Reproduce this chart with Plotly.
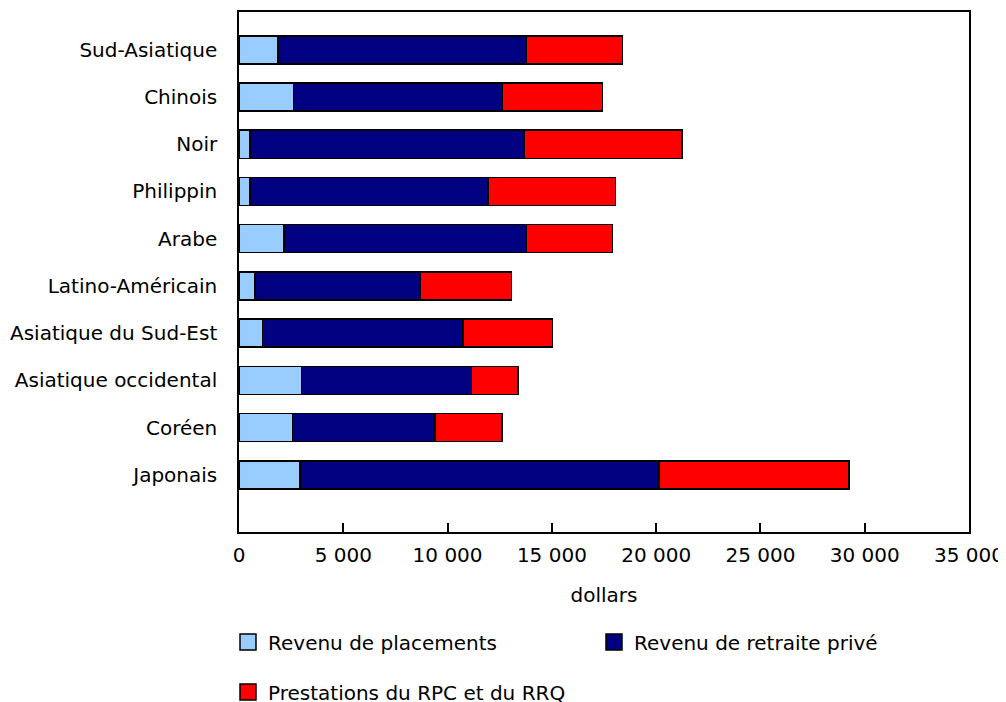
import plotly.graph_objects as go

categories = ["Japonais", "Coréen", "Asiatique occidental", "Asiatique du Sud-Est",
              "Latino-Américain", "Arabe", "Philippin", "Noir", "Chinois", "Sud-Asiatique"]
placements = [2925, 2570, 3000, 1120, 770, 2160, 530, 530, 2620, 1870]
retraite_prive = [17210, 6830, 8140, 9620, 7940, 11630, 11420, 13130, 10020, 11905]
rpc_rrq = [9105, 3210, 2235, 4295, 4360, 4125, 6090, 7590, 4780, 4600]

series_names = ["Revenu de placements", "Revenu de retraite privé", "Prestations du RPC et du RRQ"]
colors = ["#99CCFF", "#000080", "#FF0000"]
tick_vals = [0, 5000, 10000, 15000, 20000, 25000, 30000, 35000]
tick_text = ["0", "5 000", "10 000", "15 000", "20 000", "25 000", "30 000", "35 000"]

FONT = "Verdana, DejaVu Sans, sans-serif"
FS = 20

fig = go.Figure()
for name, vals, col in zip(series_names, [placements, retraite_prive, rpc_rrq], colors):
    fig.add_trace(go.Bar(
        y=categories, x=vals, orientation="h", name=name,
        marker=dict(color=col, line=dict(color="#000000", width=1.5)),
        showlegend=False,
    ))

legends = ["legend", "legend", "legend2"]
for name, col, lg in zip(series_names, colors, legends):
    fig.add_trace(go.Scatter(
        x=[None], y=[None], mode="markers", name=name, legend=lg,
        marker=dict(symbol="square", size=16, color=col, line=dict(color="#000000", width=1.5)),
        showlegend=True,
    ))

# The page body adds an 8 px offset, so margins compensate for it.
fig.update_layout(
    width=1006, height=702,
    margin=dict(l=231, r=45, t=4, b=178, autoexpand=False),
    barmode="stack", bargap=0.407,
    plot_bgcolor="white", paper_bgcolor="white",
    font=dict(family=FONT, size=FS, color="#000000"),
    xaxis=dict(
        range=[0, 35000], tickvals=tick_vals, ticktext=tick_text,
        ticks="inside", ticklen=9, tickwidth=1.5, tickcolor="#000000",
        showline=True, linecolor="#000000", linewidth=1.5, mirror=True,
        showgrid=False, zeroline=False, automargin=False,
        ticklabelstandoff=4,
        title=dict(text="dollars", font=dict(size=FS), standoff=22),
        tickfont=dict(size=FS),
    ),
    yaxis=dict(
        type="category", categoryorder="array", categoryarray=categories,
        range=[-1.21, 9.80], automargin=False,
        ticks="", showline=True, linecolor="#000000", linewidth=1.5, mirror=True,
        showgrid=False, tickfont=dict(size=FS), ticklabelstandoff=16,
    ),
    legend=dict(
        orientation="h", x=-0.01507, xanchor="left", y=-0.2115, yanchor="middle",
        entrywidth=321, font=dict(size=FS), itemsizing="trace", traceorder="normal",
        bgcolor="rgba(0,0,0,0)",
    ),
    legend2=dict(
        orientation="h", x=-0.01507, xanchor="left", y=-0.3077, yanchor="middle",
        font=dict(size=FS), itemsizing="trace", bgcolor="rgba(0,0,0,0)",
    ),
)

fig.write_html("out.html")
